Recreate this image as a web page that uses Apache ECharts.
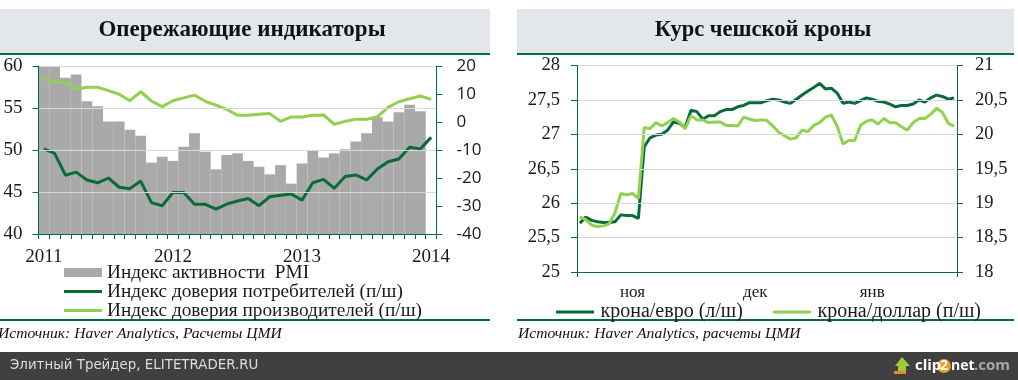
<!DOCTYPE html>
<html>
<head>
<meta charset="utf-8">
<style>
html, body { margin: 0; padding: 0; background: #fff; }
#chart { width: 1018px; height: 380px; }
</style>
<script src="https://cdn.jsdelivr.net/npm/echarts@6/dist/echarts.min.js"></script>
</head>
<body>
<div id="chart"></div>
<script>
const months = ['2011', '2011-02', '2011-03', '2011-04', '2011-05', '2011-06', '2011-07', '2011-08', '2011-09', '2011-10', '2011-11', '2011-12',
    '2012', '2012-02', '2012-03', '2012-04', '2012-05', '2012-06', '2012-07', '2012-08', '2012-09', '2012-10', '2012-11', '2012-12',
    '2013', '2013-02', '2013-03', '2013-04', '2013-05', '2013-06', '2013-07', '2013-08', '2013-09', '2013-10', '2013-11', '2013-12',
    '2014'];

const pmi = [60.1, 59.9, 58.6, 59.0, 55.8, 55.2, 53.4, 53.4, 52.4, 51.7, 48.5, 49.2,
    48.7, 50.4, 52.0, 49.8, 47.7, 49.4, 49.6, 48.7, 48.0, 47.1, 48.2, 46.0,
    48.4, 49.9, 49.1, 49.6, 50.1, 51.0, 52.0, 53.9, 53.4, 54.5, 55.4, 54.6, null];

const consumers = [-9.6, -11.2, -19, -17.9, -20.7, -21.7, -20, -23.3, -23.8, -21.1, -28.8, -29.9,
    -25.2, -25.2, -29.4, -29.4, -31.1, -29.3, -28.2, -27.3, -29.9, -26.7, -26.2, -25.7,
    -27.9, -21.7, -20.5, -23.7, -19.5, -18.9, -20.7, -16.8, -14.2, -13.2, -9.0, -9.6, -5.5];

const producers = [15.5, 14.4, 14.0, 11.7, 12.4, 12.4, 11.2, 9.9, 7.6, 10.8, 7.5, 5.5,
    7.6, 8.6, 9.6, 7.4, 6.0, 4.5, 2.4, 2.4, 2.75, 3.0, 0.24, 1.8,
    1.8, 2.4, 2.5, -0.8, 0.24, 1.0, 1.0, 1.8, 5.2, 7.25, 8.3, 9.3, 8.1];

const kronaEur = [25.71, 25.80, 25.75, 25.73, 25.72, 25.72, 25.73, 25.83, 25.82, 25.82, 25.78,
    26.82, 26.95, 26.99, 27.00, 27.06, 27.18, 27.16, 27.10, 27.35, 27.33, 27.22, 27.27, 27.27, 27.33, 27.36, 27.36, 27.40, 27.42, 27.46, 27.46,
    27.46, 27.49, 27.51, 27.50, 27.47, 27.45, 27.51, 27.57, 27.63, 27.68, 27.74, 27.66, 27.67, 27.60, 27.45, 27.47, 27.45, 27.49, 27.53, 27.51,
    27.48, 27.47, 27.44, 27.40, 27.42, 27.42, 27.44, 27.50, 27.47, 27.53, 27.57, 27.55, 27.51, 27.53];

const kronaUsd = [18.80, 18.76, 18.68, 18.66, 18.67, 18.70, 18.86, 19.14, 19.12, 19.14, 19.07,
    20.10, 20.08, 20.17, 20.12, 20.17, 20.23, 20.18, 20.08, 20.27, 20.21, 20.21, 20.17, 20.18, 20.18, 20.13, 20.13, 20.12, 20.25, 20.22, 20.20,
    20.21, 20.20, 20.12, 20.03, 19.98, 19.93, 19.95, 20.06, 20.04, 20.13, 20.17, 20.25, 20.28, 20.12, 19.86, 19.91, 19.91, 20.13, 20.19, 20.21,
    20.15, 20.23, 20.17, 20.17, 20.11, 20.06, 20.17, 20.23, 20.23, 20.29, 20.38, 20.32, 20.16, 20.12];

// подписи месяцев на оси, по номеру дня
const kronaMonths = {9: 'ноя', 30: 'дек', 50: 'янв'};
const kronaDays = kronaEur.map((v, i) => i);

const GREEN = '#00703c';
const DARK_LINE = '#0a6b3a';
const LIGHT_LINE = '#92d050';
const GRID = '#d9d9d9';
const TEXT = '#1a1a1a';
const SERIF = '"Liberation Serif", serif';
const SANS = '"Open Sans", sans-serif';

const commaLabel = (v) => String(v).replace('.', ',');

const valueAxis = (grid, min, max, interval, position, axisLabel, extra) => Object.assign({
    type: 'value',
    gridIndex: grid,
    min: min,
    max: max,
    interval: interval,
    position: position,
    z: 4,
    axisLine: {show: true, lineStyle: {color: GREEN, width: 1}},
    axisTick: {show: true, length: 6, lineStyle: {color: GREEN, width: 1}},
    axisLabel: Object.assign({color: TEXT}, axisLabel),
    splitLine: {show: false}
}, extra);

const line = (name, data, color, xIdx, yIdx) => ({
    name: name,
    type: 'line',
    xAxisIndex: xIdx,
    yAxisIndex: yIdx,
    data: data,
    symbol: 'none',
    smooth: false,
    lineStyle: {color: color, width: 3},
    itemStyle: {color: color},
    z: 3
});

// значок легенды: полоса в рамке 38x9, точки по углам держат размер рамки
const LINE_ICON = 'path://M0,0L0.01,0L0,0.01Z M38,9L37.99,9L38,8.99Z M0,3H38V6H0Z';
const lineItem = (name) => ({name: name, icon: LINE_ICON});

const barRect = (x, y, w, h, fill) => ({type: 'rect', silent: true, shape: {x: x, y: y, width: w, height: h}, style: {fill: fill}});
const label = (x, y, text, font, fill, align) => ({type: 'text', silent: true, x: x, y: y, style: {text: text, font: font, fill: fill, align: align || 'left', verticalAlign: 'middle'}});

const option = {
    animation: false,
    backgroundColor: '#fff',
    textStyle: {fontFamily: SERIF},
    grid: [
        {left: 38.5, top: 66, width: 398, height: 168},
        {left: 577, top: 65.5, width: 380, height: 206.5}
    ],
    xAxis: [
        {
            type: 'category',
            gridIndex: 0,
            data: months,
            z: 4,
            axisLine: {onZero: false, lineStyle: {color: GREEN, width: 1}},
            axisTick: {show: true, interval: 0, length: 5, lineStyle: {color: GREEN, width: 1}},
            axisLabel: {interval: 11, color: TEXT, fontFamily: SERIF, fontSize: 19, margin: 14}
        },
        {
            type: 'category',
            gridIndex: 1,
            data: kronaDays,
            z: 4,
            axisLine: {onZero: false, lineStyle: {color: GREEN, width: 1}},
            axisTick: {show: true, interval: (i) => i === 0, length: 5, lineStyle: {color: GREEN, width: 1}},
            axisLabel: {
                interval: (i) => i in kronaMonths, color: TEXT, fontFamily: SERIF, fontSize: 17, margin: 12,
                formatter: (v) => kronaMonths[v] || ''
            }
        }
    ],
    yAxis: [
        valueAxis(0, 40, 60, 5, 'left', {fontFamily: SERIF, fontSize: 19, margin: 16},
            {splitLine: {show: true, lineStyle: {color: GRID, width: 1}}}),
        valueAxis(0, -40, 20, 10, 'right', {fontFamily: SANS, fontSize: 17, margin: 20}),
        valueAxis(1, 25, 28, 0.5, 'left', {fontFamily: SERIF, fontSize: 18.5, margin: 17, formatter: commaLabel},
            {splitLine: {show: true, lineStyle: {color: GRID, width: 1}}}),
        valueAxis(1, 18, 21, 0.5, 'right', {fontFamily: SERIF, fontSize: 18.5, margin: 18, formatter: commaLabel})
    ],
    legend: [
        {
            orient: 'vertical', left: 64, top: 263, padding: 0, itemWidth: 38, itemHeight: 9, itemGap: 0,
            data: [
                {name: 'Индекс активности  PMI', icon: 'rect'},
                lineItem('Индекс доверия потребителей (п/ш)'),
                lineItem('Индекс доверия производителей (п/ш)')
            ],
            textStyle: {color: TEXT, fontFamily: SERIF, fontSize: 19.3}
        },
        {
            orient: 'horizontal', left: 556, top: 302, padding: 0, itemWidth: 41, itemHeight: 9, itemGap: 30,
            data: [lineItem('крона/евро (л/ш)'), lineItem('крона/доллар (п/ш)')],
            textStyle: {color: TEXT, fontFamily: SERIF, fontSize: 20}
        }
    ],
    series: [
        {
            name: 'Индекс активности  PMI',
            type: 'bar',
            xAxisIndex: 0,
            yAxisIndex: 0,
            data: pmi,
            barWidth: '100%',
            barCategoryGap: 0,
            itemStyle: {color: '#a9a9a9'},
            z: 2
        },
        line('Индекс доверия потребителей (п/ш)', consumers, DARK_LINE, 0, 1),
        line('Индекс доверия производителей (п/ш)', producers, LIGHT_LINE, 0, 1),
        line('крона/евро (л/ш)', kronaEur, DARK_LINE, 1, 2),
        line('крона/доллар (п/ш)', kronaUsd, LIGHT_LINE, 1, 3)
    ],
    graphic: [
        barRect(0, 9, 490, 44, '#e3e6eb'),
        barRect(0, 53, 490, 2, GREEN),
        barRect(517, 9, 497, 44, '#e3e6eb'),
        barRect(517, 53, 497, 2, GREEN),
        barRect(0, 319, 490, 2, GREEN),
        barRect(517, 319, 497, 2, GREEN),
        barRect(0, 352, 1018, 28, '#404040'),
        label(242, 30, 'Опережающие индикаторы', 'bold 23px ' + SERIF, '#111', 'center'),
        label(763, 30, 'Курс чешской кроны', 'bold 22.5px ' + SERIF, '#111', 'center'),
        label(-2, 334, 'Источник: Haver Analytics, Расчеты ЦМИ', 'italic 15.6px ' + SERIF, '#111'),
        label(518, 334, 'Источник: Haver Analytics, расчеты ЦМИ', 'italic 15.6px ' + SERIF, '#111'),
        label(10, 366, 'Элитный Трейдер, ELITETRADER.RU', '13.4px "DejaVu Sans", sans-serif', '#dddddd'),
        {
            type: 'polygon', silent: true,
            shape: {points: [[895, 366], [902, 357], [910, 366], [906, 366], [906, 371], [898, 371], [898, 366]]},
            style: {fill: '#9ccb3b'}
        },
        barRect(894, 371, 12, 3, '#e8862e'),
        {type: 'circle', silent: true, shape: {cx: 944, cy: 366, r: 7}, style: {fill: '#f09a26'}},
        label(915, 366, 'clip', 'bold 15px "Open Sans", sans-serif', '#ffffff'),
        label(944, 366, '2', 'bold 14px "Open Sans", sans-serif', '#ffffff', 'center'),
        label(951, 366, 'net', 'bold 14px "Open Sans", sans-serif', '#ffffff'),
        label(974, 366, '.com', 'bold 15px "Open Sans", sans-serif', '#a8a8a8')
    ]
};

const myChart = echarts.init(document.getElementById('chart'));
myChart.setOption(option);
</script>
</body>
</html>
